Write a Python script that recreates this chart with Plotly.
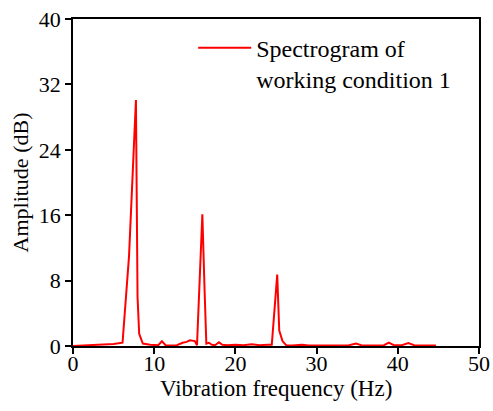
import plotly.graph_objects as go

freq_hz = [0, 1, 2, 3, 4, 5, 6.1, 6.9, 7.75, 7.95, 8.15, 8.6, 9.5, 10.5, 10.95, 11.4,
           12.0, 12.8, 13.5, 14.0, 14.4, 15.0, 15.27, 15.93, 16.2, 16.42, 16.75, 17.1,
           17.5, 17.97, 18.4, 19.0, 20, 21, 22, 23, 24, 24.48, 25.15, 25.4, 25.8, 26.25,
           27, 28.2, 29, 30, 31, 32, 33, 34, 34.85, 35.5, 36.5, 37.5, 38.3, 38.9, 39.5,
           40.5, 41.3, 42, 43, 44, 44.7]
amplitude_db = [0.0, 0.05, 0.1, 0.15, 0.2, 0.25, 0.4, 11.0, 30.1, 6.0, 1.5, 0.3, 0.15, 0.1, 0.58, 0.1,
                0.05, 0.1, 0.4, 0.5, 0.7, 0.6, 0.1, 16.1, 7.0, 0.3, 0.4, 0.15,
                0.1, 0.45, 0.15, 0.1, 0.15, 0.1, 0.2, 0.1, 0.15, 0.15, 8.74, 1.9, 0.6, 0.1,
                0.05, 0.15, 0.05, 0.05, 0.1, 0.05, 0.1, 0.1, 0.3, 0.1, 0.05, 0.1, 0.1, 0.4, 0.1,
                0.1, 0.35, 0.1, 0.1, 0.05, 0.05]

series_name = "Spectrogram of<br>working condition 1"
x_title = "Vibration frequency (Hz)"
y_title = "Amplitude (dB)"
x_ticks = [0, 10, 20, 30, 40, 50]
y_ticks = [0, 8, 16, 24, 32, 40]

font_family = "Liberation Serif, Times New Roman, serif"

fig = go.Figure()
fig.add_trace(go.Scatter(
    x=freq_hz, y=amplitude_db, mode="lines", name=series_name,
    line=dict(color="#ff0000", width=2),
))

axis_common = dict(
    showline=True, linecolor="black", linewidth=1.5, mirror=True,
    ticks="outside", ticklen=6, tickwidth=1.5, tickcolor="black",
    showgrid=False, zeroline=False, automargin=False,
    ticklabeloverflow="allow",
    tickfont=dict(family=font_family, size=22, color="black"),
)

fig.update_layout(
    width=493, height=411,
    margin=dict(l=73, r=14, t=19, b=65),
    plot_bgcolor="white", paper_bgcolor="white",
    font=dict(family=font_family, size=22, color="black"),
    showlegend=True,
    legend=dict(x=0.296, y=0.98, xanchor="left", yanchor="top",
                bgcolor="rgba(0,0,0,0)", valign="top", itemwidth=53,
                font=dict(family=font_family, size=24, color="black")),
    xaxis=dict(range=[0, 50], tickvals=x_ticks, ticklabelstandoff=-9,
               **axis_common),
    yaxis=dict(range=[0, 40], tickvals=y_ticks,
               title=dict(text=y_title, standoff=4,
                          font=dict(family=font_family, size=22)),
               **axis_common),
    annotations=[dict(text=x_title, xref="paper", yref="paper", x=0.5, y=0,
                      xanchor="center", yanchor="middle", yshift=-42,
                      showarrow=False,
                      font=dict(family=font_family, size=23, color="black"))],
)

fig.write_html("out.html", config={"displayModeBar": False},
               post_script="document.body.style.margin='0px';")
